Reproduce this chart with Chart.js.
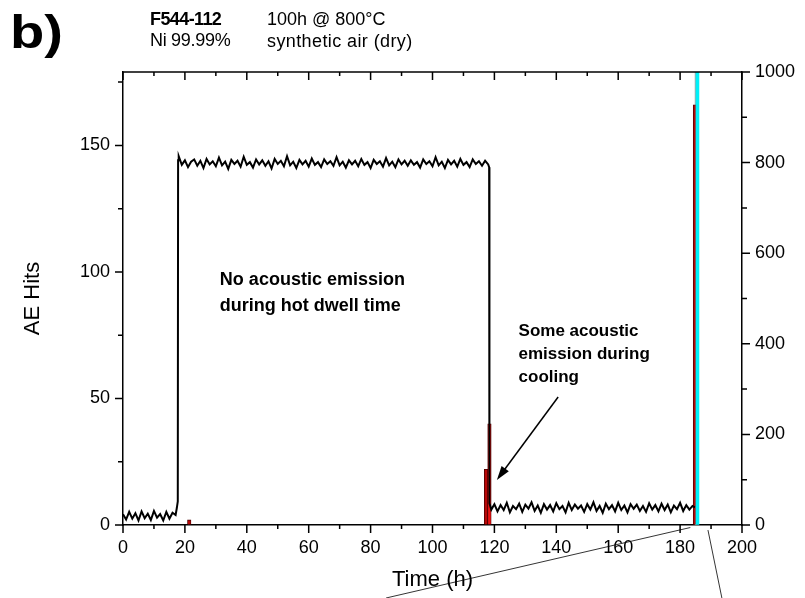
<!DOCTYPE html>
<html>
<head>
<meta charset="utf-8">
<script src="https://cdn.jsdelivr.net/npm/chart.js@4.4.1/dist/chart.umd.min.js"></script>
<style>
    body { margin: 0; background: #fff; }
    #wrap { position: relative; width: 805px; height: 598px; font-family: "Liberation Sans", Arial, sans-serif; color: #000; }
    #wrap canvas { position: absolute; left: 0; top: 0; }
    .hd { position: absolute; font-size: 18px; line-height: 20px; white-space: nowrap; }
</style>
</head>
<body>
<div id="wrap">
    <canvas id="aeChart" width="805" height="598"></canvas>
    <div class="hd" style="left:10px; top:6px; font-size:46px; line-height:52px; font-weight:bold; transform:scaleX(1.22); transform-origin:left top;">b)</div>
    <div class="hd" style="left:150px; top:9px; font-weight:bold; letter-spacing:-0.6px;">F544-112</div>
    <div class="hd" style="left:150px; top:30px; letter-spacing:-0.3px;">Ni 99.99%</div>
    <div class="hd" style="left:267px; top:9px;">100h @ 800°C</div>
    <div class="hd" style="left:267px; top:31px; letter-spacing:0.4px;">synthetic air (dry)</div>
</div>
<script>
// 온도 곡선 (오른쪽 축, °C) - 구간별 시간(h)과 값
const heatTimes = [0, 1, 2, 3, 4, 5, 6, 7, 8, 9, 10, 11, 12, 13, 14, 15, 16, 17, 17.4, 17.7, 17.8];
const heatTemps = [24, 12, 29, 14, 26, 10, 30, 15, 25, 11, 31, 16, 24, 10, 29, 14, 27, 22, 38, 52, 805];

const dwellTimes = [18, 19, 20, 21, 22, 23, 24, 25, 26, 27, 28, 29, 30, 31, 32, 33, 34, 35, 36, 37,
    38, 39, 40, 41, 42, 43, 44, 45, 46, 47, 48, 49, 50, 51, 52, 53, 54, 55, 56, 57,
    58, 59, 60, 61, 62, 63, 64, 65, 66, 67, 68, 69, 70, 71, 72, 73, 74, 75, 76, 77,
    78, 79, 80, 81, 82, 83, 84, 85, 86, 87, 88, 89, 90, 91, 92, 93, 94, 95, 96, 97,
    98, 99, 100, 101, 102, 103, 104, 105, 106, 107, 108, 109, 110, 111, 112, 113, 114, 115, 116, 117, 118];
const dwellTemps = [814, 795, 805, 790, 802, 807, 793, 804, 788, 808,
    796, 803, 792, 811, 794, 802, 786, 806, 797, 804,
    791, 813, 795, 801, 789, 807, 796, 805, 793, 803,
    787, 808, 797, 804, 792, 814, 794, 802, 788, 806,
    796, 804, 791, 809, 795, 801, 790, 807, 797, 803,
    793, 812, 794, 802, 789, 805, 796, 804, 792, 808,
    795, 801, 788, 806, 797, 803, 791, 810, 794, 802,
    790, 807, 796, 804, 793, 805, 795, 801, 789, 807,
    797, 803, 792, 812, 794, 802, 788, 806, 796, 804,
    791, 808, 795, 801, 790, 807, 797, 803, 793, 804, 796];

const coolTimes = [118.3, 118.4, 119, 120, 121, 122, 123, 124, 125, 126, 127, 128,
    129, 130, 131, 132, 133, 134, 135, 136, 137, 138, 139, 140, 141, 142, 143, 144, 145, 146, 147, 148,
    149, 150, 151, 152, 153, 154, 155, 156, 157, 158, 159, 160, 161, 162, 163, 164, 165, 166, 167, 168,
    169, 170, 171, 172, 173, 174, 175, 176, 177, 178, 179, 180, 181, 182, 183, 184, 184.8];
const coolTemps = [790, 48, 34, 46, 30, 44, 33, 49, 28, 42, 35, 47,
    29, 45, 36, 50, 31, 43, 27, 46, 34, 44,
    30, 48, 35, 42, 28, 49, 33, 45, 36, 43,
    29, 46, 34, 50, 31, 42, 27, 47, 35, 44,
    30, 49, 33, 43, 28, 46, 36, 45, 31, 42,
    29, 48, 34, 44, 30, 47, 33, 45, 28, 43,
    35, 49, 31, 44, 34, 42, 39];

// AE 히트 (왼쪽 축)
const darkHitTimes = [21.4, 117.3, 184.8];
const darkHitCounts = [2, 22, 166];
const redHitTimes = [118.4];
const redHitCounts = [40];
const cumHitTimes = [185.6];
const cumHitCounts = [200];   // 축 위로 잘림
const greyHitTimes = [185.0];
const greyHitCounts = [200];

// 축 눈금
const xTicks = [0, 20, 40, 60, 80, 100, 120, 140, 160, 180, 200];
const yLeftTicks = [0, 50, 100, 150];
const yRightTicks = [0, 200, 400, 600, 800, 1000];

const FONT = "'Liberation Sans', Arial, sans-serif";

function toPoints(xs, ys) {
    return xs.map((x, i) => ({ x: x, y: ys[i] }));
}

let tempPoints = toPoints(heatTimes, heatTemps)
    .concat(toPoints(dwellTimes, dwellTemps))
    .concat(toPoints(coolTimes, coolTemps));

/**
 * 눈금, 위쪽 테두리, 주석 텍스트, 화살표, 연결선
 */
const decorPlugin = {
    id: "decor",
    afterDraw(chart) {
        const ctx = chart.ctx;
        const xs = chart.scales.x, yl = chart.scales.y, yr = chart.scales.y2;
        const a = chart.chartArea;
        ctx.save();
        ctx.strokeStyle = "#000";
        ctx.lineWidth = 1.5;

        // 위쪽 테두리
        ctx.beginPath();
        ctx.moveTo(a.left, a.top);
        ctx.lineTo(a.right, a.top);
        ctx.stroke();

        ctx.beginPath();
        // x 눈금 (아래: 바깥, 위: 안쪽)
        for (let v = 0; v <= 200; v += 10) {
            let px = xs.getPixelForValue(v);
            let len = (v % 20 === 0) ? 8 : 4;
            ctx.moveTo(px, a.bottom); ctx.lineTo(px, a.bottom + len);
            ctx.moveTo(px, a.top); ctx.lineTo(px, a.top + len);
        }
        // 왼쪽 눈금
        for (let v = 0; v <= 175; v += 25) {
            let py = yl.getPixelForValue(v);
            let len = (v % 50 === 0) ? 8 : 5;
            ctx.moveTo(a.left, py); ctx.lineTo(a.left - len, py);
        }
        // 오른쪽 눈금
        for (let v = 0; v <= 1000; v += 100) {
            let py = yr.getPixelForValue(v);
            let len = (v % 200 === 0) ? 8 : 5;
            ctx.moveTo(a.right, py); ctx.lineTo(a.right + len, py);
        }
        ctx.stroke();

        // 주석 텍스트
        ctx.fillStyle = "#000";
        ctx.textBaseline = "middle";
        ctx.textAlign = "left";
        ctx.font = "bold 18px " + FONT;
        ctx.fillText("No acoustic emission", xs.getPixelForValue(31.3), yl.getPixelForValue(96.7));
        ctx.fillText("during hot dwell time", xs.getPixelForValue(31.3), yl.getPixelForValue(86.5));
        ctx.font = "bold 17px " + FONT;
        ctx.fillText("Some acoustic", xs.getPixelForValue(127.8), yl.getPixelForValue(76.6));
        ctx.fillText("emission during", xs.getPixelForValue(127.8), yl.getPixelForValue(67.5));
        ctx.fillText("cooling", xs.getPixelForValue(127.8), yl.getPixelForValue(58.4));

        // 화살표
        let x1 = xs.getPixelForValue(140.6), y1 = yl.getPixelForValue(50.6);
        let x2 = xs.getPixelForValue(120.8), y2 = yl.getPixelForValue(17.8);
        let ang = Math.atan2(y2 - y1, x2 - x1);
        ctx.lineWidth = 1.5;
        ctx.beginPath();
        ctx.moveTo(x1, y1);
        ctx.lineTo(x2 - 8 * Math.cos(ang), y2 - 8 * Math.sin(ang));
        ctx.stroke();
        ctx.beginPath();
        ctx.moveTo(x2, y2);
        ctx.lineTo(x2 - 14 * Math.cos(ang) + 4.5 * Math.sin(ang), y2 - 14 * Math.sin(ang) - 4.5 * Math.cos(ang));
        ctx.lineTo(x2 - 14 * Math.cos(ang) - 4.5 * Math.sin(ang), y2 - 14 * Math.sin(ang) + 4.5 * Math.cos(ang));
        ctx.closePath();
        ctx.fill();

        // 확대 연결선
        ctx.lineWidth = 0.8;
        ctx.beginPath();
        ctx.moveTo(xs.getPixelForValue(85), chart.height);
        ctx.lineTo(xs.getPixelForValue(183.3), yl.getPixelForValue(-1));
        ctx.moveTo(xs.getPixelForValue(189), yl.getPixelForValue(-2));
        ctx.lineTo(xs.getPixelForValue(193.5), chart.height);
        ctx.stroke();
        ctx.restore();
    }
};

function createChart() {
    let ctx = document.getElementById("aeChart").getContext("2d");
    new Chart(ctx, {
        type: "bar",
        data: {
            datasets: [
                {
                    type: "line",
                    label: "Temperature",
                    data: tempPoints,
                    yAxisID: "y2",
                    borderColor: "#000",
                    borderWidth: 2,
                    pointRadius: 0,
                    tension: 0,
                    order: 1
                },
                {
                    label: "grey",
                    data: toPoints(greyHitTimes, greyHitCounts),
                    yAxisID: "y",
                    backgroundColor: "#a8a8a8",
                    borderWidth: 0,
                    barThickness: 1,
                    order: 5
                },
                {
                    label: "AE hits",
                    data: toPoints(darkHitTimes, darkHitCounts),
                    yAxisID: "y",
                    backgroundColor: "#b80808",
                    borderColor: "#4a0000",
                    borderWidth: 0.8,
                    barThickness: 3.5,
                    order: 4
                },
                {
                    label: "AE hits (red)",
                    data: toPoints(redHitTimes, redHitCounts),
                    yAxisID: "y",
                    backgroundColor: "#ee1010",
                    borderColor: "#4a0000",
                    borderWidth: 0.8,
                    barThickness: 3.5,
                    order: 3
                },
                {
                    label: "cumulative",
                    data: toPoints(cumHitTimes, cumHitCounts),
                    yAxisID: "y",
                    backgroundColor: "#00f0f8",
                    borderWidth: 0,
                    barThickness: 3,
                    order: 0
                }
            ]
        },
        options: {
            responsive: false,
            animation: false,
            layout: { padding: { top: 72, left: 0, right: 0, bottom: 0 } },
            datasets: { bar: { grouped: false } },
            plugins: { legend: { display: false }, tooltip: { enabled: false } },
            scales: {
                x: {
                    type: "linear",
                    position: "bottom",
                    min: 0,
                    max: 200,
                    offset: false,
                    afterFit: s => { s.height = 73; },
                    afterBuildTicks: s => { s.ticks = xTicks.map(v => ({ value: v })); },
                    grid: { drawOnChartArea: false, drawTicks: false },
                    border: { display: true, color: "#000", width: 1.5 },
                    ticks: { color: "#000", font: { family: FONT, size: 18 }, padding: 12, maxRotation: 0, callback: v => String(v) },
                    title: { display: true, text: "Time (h)", color: "#000", font: { family: FONT, size: 22 }, padding: { top: 0, bottom: 5 } }
                },
                y: {
                    position: "left",
                    min: 0,
                    max: 179,
                    afterFit: s => { s.width = 123; },
                    afterBuildTicks: s => { s.ticks = yLeftTicks.map(v => ({ value: v })); },
                    grid: { drawOnChartArea: false, drawTicks: false },
                    border: { display: true, color: "#000", width: 1.5 },
                    ticks: { color: "#000", font: { family: FONT, size: 18 }, padding: 13, callback: v => String(v) },
                    title: { display: true, text: "AE Hits", color: "#000", font: { family: FONT, size: 22 }, padding: { top: 20, bottom: 0 } }
                },
                y2: {
                    position: "right",
                    min: 0,
                    max: 1000,
                    afterFit: s => { s.width = 63; },
                    afterBuildTicks: s => { s.ticks = yRightTicks.map(v => ({ value: v })); },
                    grid: { drawOnChartArea: false, drawTicks: false },
                    border: { display: true, color: "#000", width: 1.5 },
                    ticks: { color: "#000", font: { family: FONT, size: 18 }, padding: 13, callback: v => String(v) }
                }
            }
        },
        plugins: [decorPlugin]
    });
}

createChart();
</script>
</body>
</html>
